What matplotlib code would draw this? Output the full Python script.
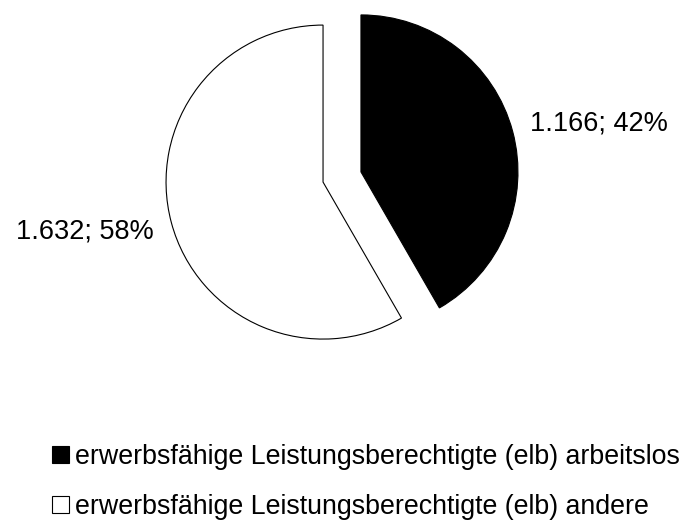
import matplotlib
matplotlib.use('Agg')
import matplotlib.pyplot as plt

# values (German thousands separator in labels)
categories = ['erwerbsfähige Leistungsberechtigte (elb) arbeitslos',
              'erwerbsfähige Leistungsberechtigte (elb) andere']
values = [1166, 1632]
shares = [42, 58]
labels = ['1.166; 42%', '1.632; 58%']
colors = ['black', 'white']

plt.rcParams['font.family'] = ['Liberation Sans', 'DejaVu Sans']

fig = plt.figure(figsize=(6.86, 5.30), dpi=100)
ax = fig.add_axes([0, 0, 1, 1])

wedges, _ = ax.pie(values, colors=colors, startangle=90, counterclock=False,
                   explode=[0.125, 0.125], radius=1,
                   wedgeprops={'edgecolor': 'black', 'linewidth': 0.8})

# 1 data unit = 157 px, pie centre at (342, 177) px from top-left
ax.set_xlim(-342 / 157, (686 - 342) / 157)
ax.set_ylim(-(530 - 177) / 157, 177 / 157)
ax.set_aspect('auto')
ax.axis('off')

ax.text(1.197, 0.338, labels[0], ha='left', va='center', fontsize=19.5)
ax.text(-1.197, -0.344, labels[1], ha='right', va='center', fontsize=19.5)

fig.legend(wedges, categories, loc='upper left', bbox_to_anchor=(52 / 686, 1 - 444 / 530),
           frameon=False, fontsize=19.3, handlelength=0.63, handleheight=0.63,
           handletextpad=0.22, labelspacing=0.9, borderpad=0, borderaxespad=0)

fig.savefig('out.png', dpi=100)
